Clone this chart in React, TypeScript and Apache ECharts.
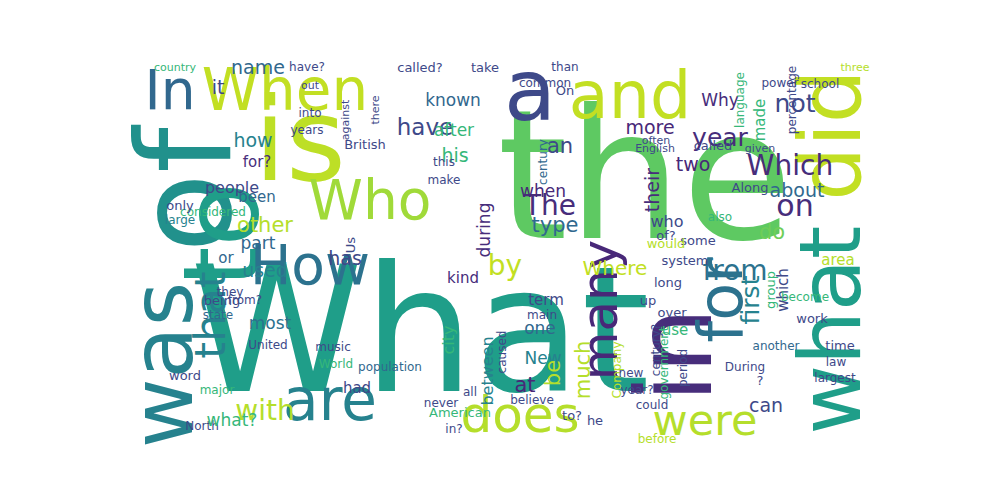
import { useEffect, useRef } from "react";
import * as echarts from "echarts";

// word, center x, center y (pixels of the 1000x500 canvas), font size, rotated?, colour
const words = ["the","What","of","is","to","was","in","what","did","and","a","When","In","Who","How","for","many","are","does","were","that","with","Which","The","from","on","by","Where","name","it","how","for?","been","other","part","used","most","being","United","people","considered","only","large","country","or","state","have","known","his","after","an","year","two","more","Why","not","about","do","has","kind","term","type","when","their","who","one","New","at","be","much","between","city","had","population","British","during","use","can","group","which","first","long","system","some","work","area","become","time","another","law","During","largest","Along","made","language","percentage","three","school","power","On","than","called?","take","common","have?","out","into","years","against","there","this","make","called","often","English","given","century","of?","would","over","up","government","Company","century?","new","period","year?","could","before","to?","?","American","all","never","in?","believe","he","North","what?","major","word","World","from?","music","they","Us","also","caused","main"];
const xs = [645,420,185,300,222,162,675,830,830,630,530,285,170,370,310,720,600,330,520,705,210,265,790,550,735,795,505,615,258,218,253,257,257,265,258,265,270,222,268,232,213,180,180,175,226,218,425,453,455,454,560,720,693,650,720,795,797,772,345,463,546,555,543,652,667,540,543,525,553,583,487,448,357,390,365,484,675,766,770,783,750,668,685,698,812,838,805,840,776,836,745,835,750,760,740,792,855,820,780,565,565,420,485,545,307,310,310,307,345,375,444,444,713,656,655,760,543,666,666,672,648,664,617,656,631,683,637,652,657,572,760,460,470,441,454,532,595,202,232,217,185,336,245,333,230,350,720,502,542];
const ys = [175,330,190,140,235,365,355,330,135,95,90,90,90,200,265,300,310,400,415,420,315,410,165,205,270,205,265,268,67,87,140,162,197,225,243,270,323,300,345,187,212,205,220,67,258,315,127,100,155,130,146,137,164,127,100,103,190,232,258,278,300,225,191,190,221,328,358,385,373,370,371,340,388,367,144,230,330,405,290,290,300,282,260,240,318,260,297,345,346,362,367,378,187,120,100,100,67,84,83,90,67,67,67,83,67,85,113,130,120,110,162,180,145,140,148,148,162,235,243,312,300,363,370,350,373,368,390,405,439,415,380,412,392,403,429,400,420,426,420,390,375,364,300,347,292,245,217,352,315];
const sizes = [180,175,130,115,105,85,105,85,85,65,85,58,55,55,55,62,50,58,50,43,43,28,28,28,28,30,28,20,19,19,19,15,15,21,17,19,17,13,12,16,12,13,12,11,15,12,23,17,19,17,21,25,19,19,17,25,19,21,19,15,15,21,17,19,16,17,17,21,21,21,16,16,15,12,13,17,15,19,13,15,25,13,13,13,13,15,12,13,12,12,12,12,13,15,12,12,11,12,12,13,12,13,13,12,12,11,12,12,11,11,12,12,13,11,11,11,12,13,13,13,13,12,12,12,12,12,12,12,12,13,13,13,12,12,12,12,13,12,17,12,13,12,12,12,12,13,12,12,12];
const rotated = ["was","to","of","in","what","did","for","many","that","their","be","much","between","city","during","group","which","first","made","language","percentage","against","there","century","government","Company","century?","period","Us","caused"];
const colors = ["#5ec962","#1f9e89","#21918c","#bddf26","#1f9e89","#26828e","#472d7b","#1f9e89","#c2df23","#c2df23","#3e4989","#c2df23","#31688e","#a0da39","#2c728e","#2c728e","#482878","#26828e","#b5de2b","#b5de2b","#26828e","#b5de2b","#472d7b","#472d7b","#2c728e","#472d7b","#c2df23","#c2df23","#31688e","#3e4989","#26828e","#472d7b","#31688e","#b5de2b","#31688e","#26828e","#2c728e","#3e4989","#3e4989","#3e4989","#35b779","#3e4989","#26828e","#35b779","#31688e","#31688e","#3e4989","#31688e","#35b779","#35b779","#3e4989","#472d7b","#482878","#482878","#472d7b","#3e4989","#31688e","#6ece58","#3e4989","#472d7b","#3e4989","#31688e","#482878","#472d7b","#3e4989","#31688e","#26828e","#482878","#b5de2b","#b5de2b","#26828e","#35b779","#3e4989","#31688e","#3e4989","#472d7b","#35b779","#3e4989","#35b779","#3e4989","#26828e","#3e4989","#3e4989","#3e4989","#3e4989","#b5de2b","#35b779","#3e4989","#31688e","#3e4989","#3e4989","#3e4989","#3e4989","#35b779","#35b779","#3e4989","#b5de2b","#3e4989","#3e4989","#3e4989","#3e4989","#3e4989","#3e4989","#3e4989","#3e4989","#3e4989","#3e4989","#3e4989","#3e4989","#3e4989","#3e4989","#3e4989","#3e4989","#3e4989","#3e4989","#3e4989","#31688e","#3e4989","#b5de2b","#3e4989","#3e4989","#35b779","#b5de2b","#3e4989","#3e4989","#3e4989","#3e4989","#3e4989","#b5de2b","#3e4989","#3e4989","#35b779","#3e4989","#3e4989","#3e4989","#3e4989","#3e4989","#3e4989","#35b779","#35b779","#3e4989","#35b779","#3e4989","#3e4989","#3e4989","#3e4989","#35b779","#3e4989","#3e4989"];

export default function App() {
  const ref = useRef<HTMLDivElement>(null);

  useEffect(() => {
    if (!ref.current) return;
    const chart = echarts.init(ref.current, undefined, { renderer: "svg" });
    chart.setOption({
      animation: false,
      backgroundColor: "#ffffff",
      grid: { left: 0, right: 0, top: 0, bottom: 0 },
      xAxis: { type: "value", min: 0, max: 1000, show: false },
      yAxis: { type: "value", min: 0, max: 500, inverse: true, show: false },
      series: [
        {
          type: "scatter",
          symbolSize: 0,
          silent: true,
          itemStyle: { opacity: 1 },
          data: words.map((w, i) => ({
            value: [xs[i], ys[i]],
            label: {
              show: true,
              position: "inside",
              formatter: w,
              fontFamily: "DejaVu Sans",
              fontSize: sizes[i],
              color: colors[i],
              opacity: 1,
              rotate: rotated.includes(w) ? 90 : 0,
            },
          })),
        },
      ],
    });
    return () => chart.dispose();
  }, []);

  return <div ref={ref} style={{ position: "fixed", left: 0, top: 0, width: 1000, height: 500 }} />;
}
